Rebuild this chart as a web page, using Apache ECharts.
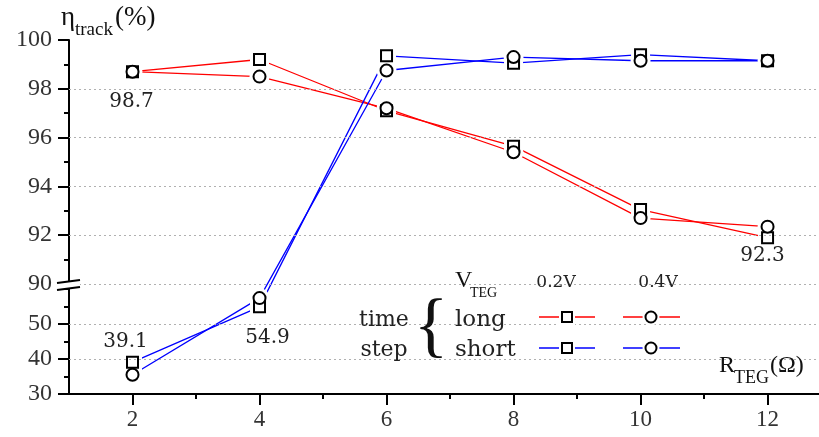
<!DOCTYPE html>
<html><head><meta charset="utf-8">
<script src="https://cdn.jsdelivr.net/npm/echarts@6/dist/echarts.min.js"></script>
<style>html,body{margin:0;padding:0;background:#fff}#c{width:819px;height:437px}</style>
</head><body><div id="c"></div>
<script>
// ---------- data ----------
const xValues = [2, 4, 6, 8, 10, 12];
const longV02  = [98.7, 99.2, 97.1, 95.65, 93.05, 91.9];   // time step long, VTEG 0.2V (square)
const longV04  = [98.7, 98.5, 97.2, 95.4, 92.7, 92.35];    // time step long, VTEG 0.4V (circle)
const shortV02 = [39.1, 54.9, 99.35, 99.05, 99.4, 99.15];  // time step short, VTEG 0.2V (square)
const shortV04 = [35.5, 57.4, 98.75, 99.3, 99.15, 99.15];  // time step short, VTEG 0.4V (circle)
const yMajorTicks = [30, 40, 50, 90, 92, 94, 96, 98, 100];
const yMinorTicks = [35, 45, 55, 60, 91, 93, 95, 97, 99];
const yGridValues = [40, 50, 90, 92, 94, 96, 98];
const xMajorTicks = [2, 4, 6, 8, 10, 12];
const xMinorTicks = [3, 5, 7, 9, 11];
const annotationTexts = ['98.7', '39.1', '54.9', '92.3'];

// ---------- broken-axis scale (upper 90..100, lower 30..60) ----------
const PX_UPPER = 24.4, PX_LOWER = 3.5;
const ratio = PX_LOWER / PX_UPPER;
const T60 = 90 - 5 / PX_UPPER;
function T(y) {
  if (y >= 90) return y;
  if (y <= 60) return T60 - (60 - y) * ratio;
  return T60 + (y - 60) / 30 * (90 - T60);
}
function invT(t) {
  if (t >= 90 - 1e-9) return t;
  if (t <= T60) return 60 - (T60 - t) / ratio;
  return 60 + (t - T60) / (90 - T60) * 30;
}

const seriesDefs = [
  { name: 'long 0.2V',  data: longV02,  color: '#ff0000', symbol: 'rect',   size: 11 },
  { name: 'long 0.4V',  data: longV04,  color: '#ff0000', symbol: 'circle', size: 12 },
  { name: 'short 0.2V', data: shortV02, color: '#0000ff', symbol: 'rect',   size: 11 },
  { name: 'short 0.4V', data: shortV04, color: '#0000ff', symbol: 'circle', size: 12 }
];

const chart = echarts.init(document.getElementById('c'));
const SERIF = 'Liberation Serif';
const DSERIF = 'DejaVu Serif';
const series = [];
seriesDefs.forEach((d, i) => {
  const pts = xValues.map((x, k) => [x, T(d.data[k])]);
  const line = {
    type: 'line', name: d.name, data: pts, z: 2, showSymbol: false, symbol: 'none',
    lineStyle: { color: d.color, width: 1.3 }, silent: true, animation: false
  };
  if (i === 0) {
    line.markLine = {
      silent: true, symbol: ['none', 'none'], label: { show: false },
      lineStyle: { type: [2, 3], color: '#b0b0b0', width: 1 },
      data: yGridValues.map(v => ({ yAxis: T(v) }))
    };
  }
  series.push(line);
  series.push({
    type: 'scatter', data: pts, z: 3, symbol: d.symbol, symbolSize: d.size + 8,
    itemStyle: { color: '#fff', opacity: 1 }, silent: true, animation: false
  });
  series.push({
    type: 'scatter', data: pts, z: 4, symbol: d.symbol, symbolSize: d.size,
    itemStyle: { color: '#fff', borderColor: '#000', borderWidth: 2, opacity: 1 },
    silent: true, animation: false
  });
});

const yMin = T(30);
chart.setOption({
  animation: false,
  grid: { left: 69, right: 0, top: 40, bottom: 43, containLabel: false },
  xAxis: [
    { type: 'value', min: 1, max: 12.81, position: 'bottom',
      axisLine: { show: true, lineStyle: { color: '#000', width: 2 } },
      axisTick: { show: true, length: 11, lineStyle: { color: '#000', width: 2 }, customValues: xMajorTicks },
      axisLabel: { customValues: xMajorTicks, fontSize: 23, fontFamily: SERIF, color: '#333', margin: 14 },
      splitLine: { show: false } },
    { type: 'value', min: 1, max: 12.81, position: 'bottom', offset: 0,
      axisLine: { show: false },
      axisTick: { show: true, length: 5, lineStyle: { color: '#000', width: 2 }, customValues: xMinorTicks },
      axisLabel: { show: false }, splitLine: { show: false } }
  ],
  yAxis: [
    { type: 'value', min: yMin, max: 100, position: 'left',
      axisLine: { show: true, lineStyle: { color: '#000', width: 2 } },
      axisTick: { show: true, length: 11, lineStyle: { color: '#000', width: 2 }, customValues: yMajorTicks.map(T) },
      axisLabel: { customValues: yMajorTicks.map(T), formatter: v => String(Math.round(invT(v))),
                   fontSize: 24, fontFamily: SERIF, color: '#333', margin: 17 },
      splitLine: { show: false } },
    { type: 'value', min: yMin, max: 100, position: 'left', offset: 0,
      axisLine: { show: false },
      axisTick: { show: true, length: 5, lineStyle: { color: '#000', width: 2 }, customValues: yMinorTicks.map(T) },
      axisLabel: { show: false }, splitLine: { show: false } }
  ],
  series: series
});

// ---------- decorations ----------
function px(x, y) { return chart.convertToPixel({ xAxisIndex: 0, yAxisIndex: 0 }, [x, T(y)]); }
function txt(x, y, s, size, family, align, color) {
  return { type: 'text', x: x, y: y, z: 100, silent: true,
           style: { text: s, fontSize: size, fontFamily: family, fill: color || '#222',
                    textAlign: align || 'left', textVerticalAlign: 'middle' } };
}
const g = [];
// title
g.push(txt(61, 18, 'η', 27, SERIF, 'left', '#111'));
g.push(txt(75, 30, 'track', 19, SERIF, 'left', '#111'));
g.push(txt(115, 18, '(%)', 27, SERIF, 'left', '#111'));
// x axis name
g.push(txt(719, 366, 'R', 24, SERIF, 'left', '#111'));
g.push(txt(734, 378, 'TEG', 18, SERIF, 'left', '#111'));
g.push(txt(770, 366, '(Ω)', 24, SERIF, 'left', '#111'));
// axis break
const p90 = px(1, 90);
const ax = p90[0], ay = p90[1];
g.push({ type: 'polygon', z: 90, silent: true,
  shape: { points: [[ax - 12, ay - 1], [ax + 11, ay - 4], [ax + 11, ay + 3], [ax - 12, ay + 6]] },
  style: { fill: '#fff' } });
g.push({ type: 'line', z: 91, silent: true, shape: { x1: ax - 12, y1: ay - 1, x2: ax + 11, y2: ay - 4 }, style: { stroke: '#000', lineWidth: 2 } });
g.push({ type: 'line', z: 91, silent: true, shape: { x1: ax - 12, y1: ay + 6, x2: ax + 11, y2: ay + 3 }, style: { stroke: '#000', lineWidth: 2 } });
// annotations
let p = px(xValues[0], longV02[0]);  g.push(txt(p[0] - 1, p[1] + 30, annotationTexts[0], 20, DSERIF, 'center'));
p = px(xValues[0], shortV02[0]);     g.push(txt(p[0] - 7, p[1] - 20, annotationTexts[1], 20, DSERIF, 'center'));
p = px(xValues[1], shortV02[1]);     g.push(txt(p[0] + 8, p[1] + 31, annotationTexts[2], 20, DSERIF, 'center'));
p = px(xValues[5], longV02[5]);      g.push(txt(p[0] - 5, p[1] + 18, annotationTexts[3], 20, DSERIF, 'center'));
// legend
g.push(txt(455, 281, 'V', 24, SERIF, 'left', '#111'));
g.push(txt(470, 293, 'TEG', 14, SERIF, 'left', '#111'));
g.push(txt(556, 283, '0.2V', 17, DSERIF, 'center'));
g.push(txt(658, 283, '0.4V', 17, DSERIF, 'center'));
g.push(txt(384, 320, 'time', 22, DSERIF, 'center'));
g.push(txt(384, 350, 'step', 22, DSERIF, 'center'));
g.push(txt(455, 320, 'long', 23, DSERIF, 'left'));
g.push(txt(455, 350, 'short', 23, DSERIF, 'left'));
g.push(txt(431, 329, '{', 72, SERIF, 'center', '#111'));
const legendRows = [{ y: 317, color: '#ff0000' }, { y: 348, color: '#0000ff' }];
legendRows.forEach(r => {
  [{ x0: 539, x1: 595, cx: 567, sym: 'rect' }, { x0: 623, x1: 680, cx: 651, sym: 'circle' }].forEach(c => {
    g.push({ type: 'line', z: 100, silent: true, shape: { x1: c.x0, y1: r.y, x2: c.x1, y2: r.y }, style: { stroke: r.color, lineWidth: 1.3 } });
    if (c.sym === 'rect') {
      g.push({ type: 'rect', z: 101, silent: true, shape: { x: c.cx - 8, y: r.y - 8, width: 16, height: 16 }, style: { fill: '#fff' } });
      g.push({ type: 'rect', z: 102, silent: true, shape: { x: c.cx - 5, y: r.y - 5, width: 10, height: 10 }, style: { fill: '#fff', stroke: '#000', lineWidth: 2 } });
    } else {
      g.push({ type: 'circle', z: 101, silent: true, shape: { cx: c.cx, cy: r.y, r: 8.5 }, style: { fill: '#fff' } });
      g.push({ type: 'circle', z: 102, silent: true, shape: { cx: c.cx, cy: r.y, r: 5.5 }, style: { fill: '#fff', stroke: '#000', lineWidth: 2 } });
    }
  });
});
chart.setOption({ graphic: { elements: g } });
</script>
</body></html>
